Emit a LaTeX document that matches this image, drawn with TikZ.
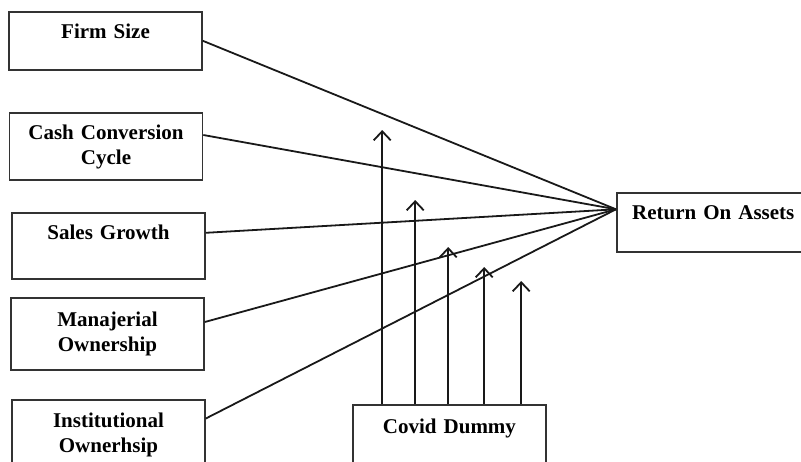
\documentclass[tikz,border=0pt]{standalone}
\usepackage{fontspec}
\setmainfont{Liberation Serif}
\usetikzlibrary{arrows.meta}

\begin{document}
\begin{tikzpicture}[x=1pt, y=-1pt,
  box/.style={draw=black!80, line width=1.6pt, text width=183pt, inner xsep=5pt, inner ysep=13pt, align=center, font=\fontsize{21}{25}\selectfont\bfseries},
  onebox/.style={box, text height=14pt},
  twobox/.style={box, inner ysep=0pt},
  link/.style={line width=1.8pt, black!90},
  effect/.style={link, -{Straight Barb[length=9pt, width=17pt]}}
]
\useasboundingbox (0,0) rectangle (801,461);
\clip (0,0) rectangle (801,461);

% independent variables
\node[onebox, text depth=18pt, anchor=north] (firm) at (105.5, 11) {Firm Size};
\node[twobox, minimum height=67pt] (ccc) at (106, 146.5) {Cash Conversion\\Cycle};
\node[onebox, text depth=26pt, anchor=north] (sales) at (108.5, 212) {Sales Growth};
\node[twobox, minimum height=72pt] (manaj) at (107.5, 334) {Manajerial\\Ownership};
\node[twobox, minimum height=69pt] (inst) at (108.5, 434.5) {Institutional\\Ownerhsip};

% dependent and moderating variable
\node[onebox, text depth=19pt, anchor=north west] (roa) at (616, 192) {Return On Assets};
\node[onebox, inner ysep=15pt, text depth=40pt, anchor=north] (covid) at (449.5, 404) {Covid Dummy};

% paths to return on assets
\coordinate (hub) at ([yshift=13pt]roa.west);
\draw[link] (firm.east) -- (hub);
\draw[link] ([yshift=11.5pt]ccc.east) -- (hub);
\draw[link] ([yshift=13pt]sales.east) -- (hub);
\draw[link] ([yshift=12pt]manaj.east) -- (hub);
\draw[link] ([yshift=16pt]inst.east) -- (hub);

% moderating arrows
\foreach \dx/\ty [count=\i] in {30/130, 63/200, 96/247, 132/267, 169/281}{
  \path ([xshift=\dx pt]covid.north west) coordinate (foot\i);
  \path (foot\i |- 0,\ty) coordinate (tip\i);
  \draw[effect] (foot\i) -- (tip\i);
}
\end{tikzpicture}
\end{document}
